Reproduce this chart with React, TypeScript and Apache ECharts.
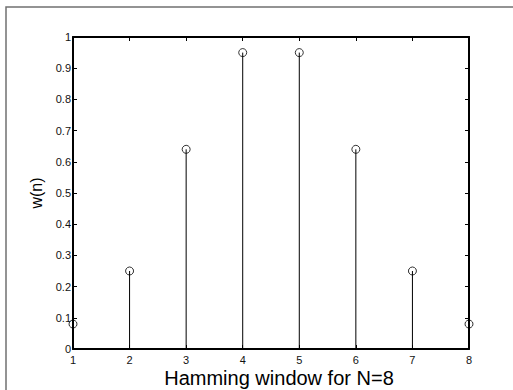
import React, { useEffect, useRef } from "react";
import * as echarts from "echarts";

// Sample index n and Hamming window values w(n), N = 8
const N_INDEX = [1, 2, 3, 4, 5, 6, 7, 8];
const W_VALUES = [0.08, 0.25, 0.64, 0.95, 0.95, 0.64, 0.25, 0.08];
const X_TICKS = [1, 2, 3, 4, 5, 6, 7, 8];
const Y_TICK_STEP = 0.1;

const FONT = "'Liberation Sans', Arial, Helvetica, sans-serif";

export default function App() {
  const ref = useRef<HTMLDivElement>(null);

  useEffect(() => {
    document.body.style.margin = "0";
    if (!ref.current) return;
    const chart = echarts.init(ref.current, undefined, { renderer: "svg" });

    const points = N_INDEX.map((n, i) => [n, W_VALUES[i]]);

    const axisLine = { show: true, onZero: false, lineStyle: { color: "#000", width: 2 } };
    const axisTick = { show: true, inside: true, length: 4, lineStyle: { color: "#000", width: 1 } };
    const labelStyle = { color: "#111", fontSize: 11, fontFamily: FONT };

    chart.setOption({
      animation: false,
      backgroundColor: "#fff",
      grid: { left: 73, top: 37, width: 396, height: 312, containLabel: false },
      xAxis: [
        {
          type: "value",
          position: "bottom",
          min: X_TICKS[0],
          max: X_TICKS[X_TICKS.length - 1],
          interval: 1,
          axisLine,
          axisTick,
          splitLine: { show: false },
          axisLabel: { ...labelStyle, margin: 5 },
        },
        {
          type: "value",
          position: "top",
          min: X_TICKS[0],
          max: X_TICKS[X_TICKS.length - 1],
          interval: 1,
          axisLine,
          axisTick,
          splitLine: { show: false },
          axisLabel: { show: false },
        },
      ],
      yAxis: [
        {
          type: "value",
          position: "left",
          min: 0,
          max: 1,
          interval: Y_TICK_STEP,
          axisLine,
          axisTick,
          splitLine: { show: false },
          axisLabel: {
            ...labelStyle,
            margin: 2,
            formatter: (v: number) => String(Number(v.toFixed(1))),
          },
          name: "w(n)",
          nameLocation: "middle",
          nameGap: 24,
          nameTextStyle: { color: "#000", fontSize: 16, fontFamily: FONT },
        },
        {
          type: "value",
          position: "right",
          min: 0,
          max: 1,
          interval: Y_TICK_STEP,
          axisLine,
          axisTick,
          splitLine: { show: false },
          axisLabel: { show: false },
        },
      ],
      graphic: [
        {
          type: "rect",
          shape: { x: 6, y: 7, width: 600, height: 500 },
          style: { fill: "none", stroke: "#707070", lineWidth: 1.5 },
          silent: true,
        },
        {
          type: "text",
          x: 279,
          y: 388,
          style: {
            text: "Hamming window for N=8",
            font: `20px ${FONT}`,
            fill: "#000",
            textAlign: "center",
            textVerticalAlign: "bottom",
          },
        },
      ],
      series: [
        {
          type: "custom",
          xAxisIndex: 0,
          yAxisIndex: 0,
          data: points,
          renderItem: (_params: any, api: any) => {
            const base = api.coord([api.value(0), 0]);
            const top = api.coord([api.value(0), api.value(1)]);
            return {
              type: "line",
              shape: { x1: base[0], y1: base[1], x2: top[0], y2: top[1] },
              style: { stroke: "#000", lineWidth: 1 },
            };
          },
        },
        {
          type: "scatter",
          xAxisIndex: 0,
          yAxisIndex: 0,
          data: points,
          symbol: "circle",
          symbolSize: 8,
          itemStyle: { color: "rgba(0,0,0,0)", borderColor: "#000", borderWidth: 1 },
          emphasis: { disabled: true },
        },
      ],
    });

    return () => chart.dispose();
  }, []);

  return <div ref={ref} style={{ width: 513, height: 390 }} />;
}
